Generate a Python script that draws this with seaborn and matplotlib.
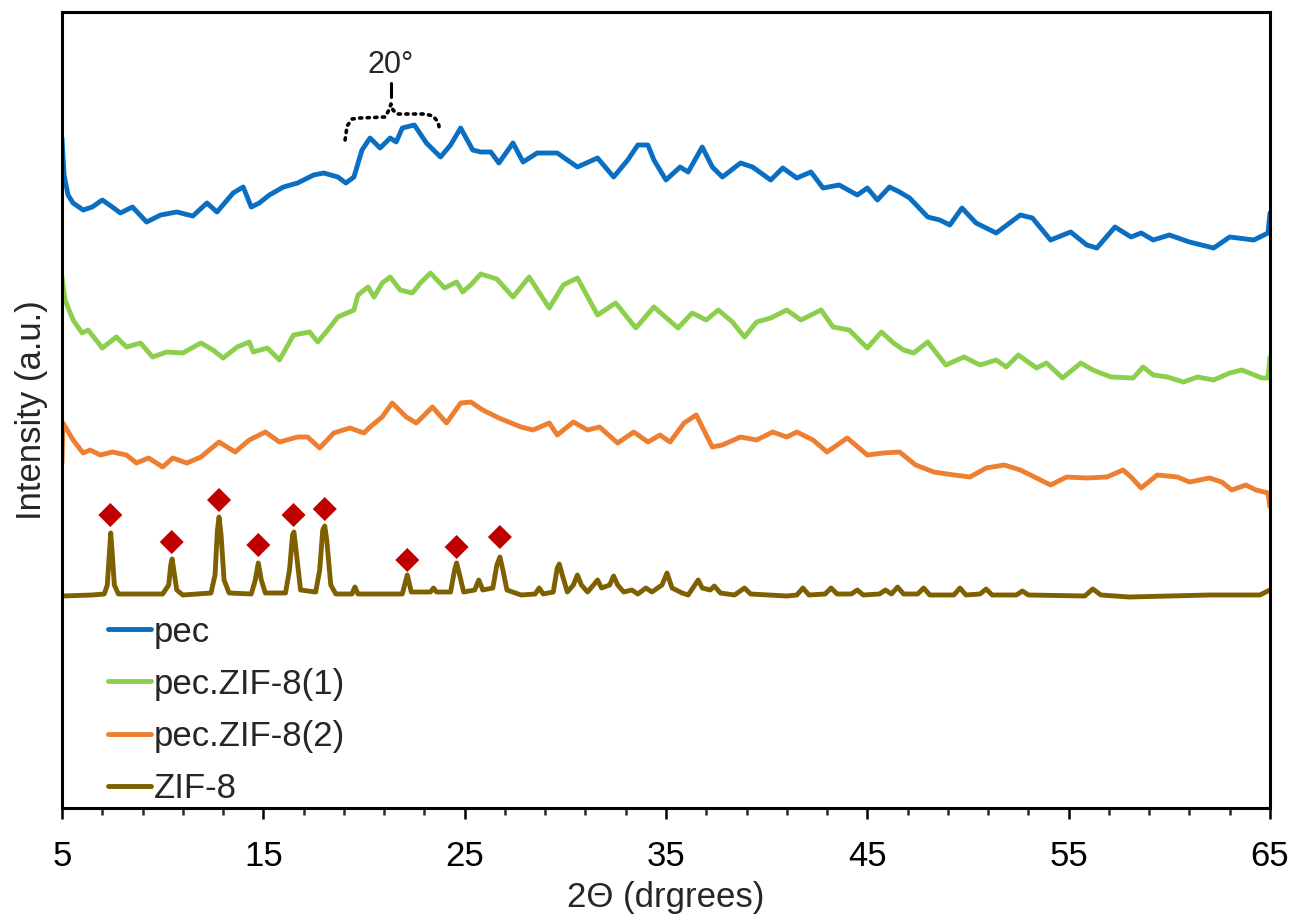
import numpy as np
import pandas as pd
import matplotlib
matplotlib.use("Agg")
import matplotlib.pyplot as plt
import seaborn as sns
from matplotlib.ticker import FixedLocator

sns.set_style("white")
plt.rcParams["font.family"] = ["Liberation Sans", "DejaVu Sans"]

# ---------------- data (2theta in degrees, intensity in arbitrary units, offset as plotted) -------------
pec_x = [5.0, 5.1, 5.3, 5.55, 6.05, 6.5, 7.0, 7.5, 7.9, 8.5, 9.2, 9.9, 10.7, 11.5, 12.2, 12.7, 13.5, 14.0,
         14.4, 14.8, 15.3, 16.0, 16.7, 17.5, 18.0, 18.7, 19.1, 19.5, 19.9, 20.3, 20.8, 21.3, 21.6, 21.9, 22.5,
         23.1, 23.8, 24.3, 24.8, 25.4, 25.8, 26.3, 26.7, 27.4, 27.9, 28.6, 29.6, 30.6, 31.6, 32.4, 33.1, 33.6,
         34.1, 34.4, 35.0, 35.7, 36.1, 36.8, 37.3, 37.8, 38.7, 39.3, 40.2, 40.8, 41.5, 42.2, 42.8, 43.6, 44.5,
         45.0, 45.5, 46.1, 46.6, 47.1, 48.0, 48.6, 49.1, 49.7, 50.4, 51.4, 52.6, 53.2, 54.1, 55.1, 55.9, 56.4,
         57.3, 58.1, 58.6, 59.2, 60.0, 61.0, 62.2, 63.0, 64.2, 64.9, 65.0]
pec_y = [670, 633, 613, 605, 598, 601, 608, 601, 595, 601, 586, 593, 596, 592, 605, 596, 615, 621,
         601, 605, 613, 621, 625, 633, 635, 631, 625, 631, 658, 670, 660, 670, 666, 680, 683,
         665, 651, 663, 680, 658, 656, 656, 645, 665, 646, 655, 655, 641, 650, 631, 648, 663,
         663, 648, 628, 641, 636, 661, 641, 631, 645, 641, 628, 640, 630, 636, 620, 623, 613,
         620, 608, 621, 616, 610, 591, 588, 583, 600, 585, 575, 593, 590, 568, 576, 563, 560,
         581, 571, 575, 568, 573, 566, 560, 571, 568, 575, 595]

zif1_x = [5.0, 5.15, 5.55, 6.0, 6.3, 7.0, 7.7, 8.2, 8.9, 9.5, 10.2, 11.0, 11.9, 12.5, 13.0, 13.7, 14.3, 14.5,
          15.2, 15.8, 16.5, 17.3, 17.7, 18.2, 18.7, 19.5, 19.7, 20.2, 20.5, 20.9, 21.3, 21.8, 22.4, 22.8,
          23.3, 24.0, 24.6, 24.9, 25.3, 25.8, 26.6, 27.4, 28.2, 29.2, 29.9, 30.6, 31.6, 32.5, 33.5, 34.4,
          35.6, 36.3, 37.0, 37.6, 38.3, 38.9, 39.5, 40.2, 41.0, 41.7, 42.7, 43.3, 44.1, 45.0, 45.7, 46.3,
          46.8, 47.3, 48.0, 48.9, 49.8, 50.6, 51.4, 51.9, 52.5, 53.4, 53.9, 54.7, 55.6, 56.2, 57.1, 58.2,
          58.7, 59.2, 59.9, 60.7, 61.4, 62.2, 63.0, 63.6, 64.6, 64.9, 65.0]
zif1_y = [531, 508, 488, 475, 478, 460, 471, 461, 465, 451, 456, 455, 465, 458, 450, 461, 466, 456,
          460, 448, 473, 476, 466, 478, 491, 498, 513, 521, 511, 525, 531, 518, 515, 525,
          535, 520, 526, 516, 523, 534, 529, 511, 531, 500, 523, 530, 493, 505, 480, 501,
          480, 495, 488, 498, 486, 471, 486, 490, 498, 488, 498, 481, 478, 460, 476, 465,
          458, 455, 466, 443, 451, 443, 448, 441, 453, 440, 445, 430, 445, 438, 431, 430,
          441, 433, 431, 426, 431, 428, 435, 438, 430, 430, 451]

zif2_x = [5.0, 5.05, 5.55, 6.05, 6.4, 6.9, 7.5, 8.2, 8.7, 9.3, 10.0, 10.5, 11.2, 11.9, 12.8, 13.6, 14.3,
          15.1, 15.8, 16.7, 17.2, 17.8, 18.5, 19.3, 20.0, 20.3, 20.9, 21.4, 22.1, 22.6, 23.4, 24.1, 24.8,
          25.3, 25.9, 26.7, 27.8, 28.4, 29.2, 29.6, 30.4, 31.1, 31.7, 32.6, 33.4, 34.1, 34.7, 35.2, 35.9,
          36.5, 37.3, 37.8, 38.7, 39.5, 40.3, 41.0, 41.5, 42.3, 43.0, 44.0, 45.0, 45.8, 46.6, 47.4, 48.3,
          49.3, 50.1, 50.9, 51.8, 52.6, 53.3, 54.1, 54.9, 55.9, 56.9, 57.7, 58.1, 58.6, 59.4, 60.4, 61.0,
          62.0, 62.6, 63.1, 63.8, 64.3, 64.9, 65.0]
zif2_y = [345, 385, 368, 355, 358, 353, 356, 353, 345, 350, 341, 350, 345, 351, 366, 356, 368,
          376, 366, 371, 371, 360, 375, 380, 375, 381, 391, 405, 391, 385, 401, 385, 405,
          406, 398, 390, 381, 378, 385, 373, 386, 378, 381, 365, 376, 366, 373, 366, 385,
          393, 361, 363, 371, 368, 376, 371, 376, 368, 356, 370, 353, 355, 356, 343, 336,
          333, 331, 340, 343, 338, 331, 323, 331, 330, 331, 338, 331, 320, 333, 331, 326,
          330, 326, 318, 323, 318, 315, 301]

zif8_x = [5.0, 6.5, 7.1, 7.25, 7.35, 7.42, 7.5, 7.6, 7.8, 10.0, 10.3, 10.4, 10.47, 10.55, 10.7, 11.0,
          12.4, 12.6, 12.72, 12.8, 12.9, 13.05, 13.3, 14.4, 14.6, 14.75, 14.9, 15.1, 16.1, 16.3, 16.45,
          16.52, 16.65, 16.85, 17.6, 17.8, 17.95, 18.05, 18.15, 18.35, 18.6, 19.4, 19.55, 19.7, 21.9,
          22.15, 22.35, 23.3, 23.45, 23.6, 24.3, 24.5, 24.6, 24.75, 24.95, 25.5, 25.7, 25.9, 26.4, 26.6,
          26.75, 26.9, 27.1, 27.8, 28.5, 28.7, 28.9, 29.4, 29.6, 29.7, 29.85, 30.1, 30.4, 30.6, 30.8,
          31.1, 31.4, 31.6, 31.8, 32.2, 32.4, 32.6, 32.9, 33.3, 33.6, 34.0, 34.3, 34.8, 35.05, 35.3,
          35.8, 36.1, 36.4, 36.6, 36.8, 37.2, 37.4, 37.7, 38.4, 38.9, 39.2, 41.0, 41.5, 41.8, 42.1,
          42.9, 43.2, 43.5, 44.2, 44.5, 44.8, 45.6, 45.9, 46.2, 46.5, 46.8, 47.5, 47.8, 48.1, 49.3,
          49.6, 49.9, 50.6, 50.9, 51.2, 52.4, 52.7, 53.0, 55.8, 56.2, 56.6, 58.0, 60.0, 62.0, 64.5, 65.0]
zif8_y = [212, 213, 214, 223, 253, 275, 253, 223, 214, 214, 223, 243, 249, 238, 218, 213,
          215, 233, 278, 291, 273, 228, 215, 214, 228, 245, 228, 215, 215, 238, 273,
          276, 253, 218, 216, 238, 278, 282, 268, 223, 214, 214, 221, 214, 214,
          233, 216, 216, 220, 216, 216, 238, 245, 233, 216, 218, 228, 218, 220, 243,
          251, 238, 218, 213, 214, 220, 214, 216, 240, 244, 233, 216, 223, 233, 223,
          216, 223, 228, 220, 223, 232, 223, 216, 218, 214, 220, 216, 223, 235, 220,
          215, 213, 222, 228, 220, 218, 222, 215, 213, 220, 214, 212, 213, 220, 213,
          214, 220, 214, 214, 218, 213, 214, 218, 214, 221, 214, 214, 220, 213, 213,
          220, 213, 214, 219, 213, 213, 217, 213, 212, 219, 213, 211, 212, 213, 213, 218]

# ZIF-8 reflections marked with diamonds
marker_x = [7.4, 10.45, 12.8, 14.75, 16.5, 18.05, 22.15, 24.6, 26.75]
marker_y = [293, 266, 308, 263, 293, 299, 248, 261, 271]

series_names = ["pec", "pec.ZIF-8(1)", "pec.ZIF-8(2)", "ZIF-8"]
series_colors = ["#0A6FC2", "#8CCF4D", "#EE7E32", "#7F6000"]

# annotation brace over the 20 degree hump
brace_x = [19.06, 19.16, 19.41, 19.80, 21.05, 21.24, 21.34, 21.44, 21.64, 23.03, 23.43, 23.68, 23.78]
brace_y = [668, 682, 689, 690, 691, 698, 704, 698, 694, 694, 692, 686, 676]
stem_x = [21.34, 21.34]
stem_y = [711, 725]
brace_label = "20°"

# ---------------- build frame ----------------
frames = []
for name, xs, ys in zip(series_names, [pec_x, zif1_x, zif2_x, zif8_x], [pec_y, zif1_y, zif2_y, zif8_y]):
    frames.append(pd.DataFrame({"two_theta": xs, "intensity": ys, "sample": name}))
df = pd.concat(frames, ignore_index=True)

W, H = 1291, 917
fig = plt.figure(figsize=(W / 100, H / 100), dpi=100)
ax = fig.add_axes([62 / W, (H - 808) / H, (1270 - 62) / W, (808 - 12) / H])

sns.lineplot(data=df, x="two_theta", y="intensity", hue="sample", hue_order=series_names,
             palette=dict(zip(series_names, series_colors)), sort=False, estimator=None,
             linewidth=3.5, ax=ax)
sns.scatterplot(x=marker_x, y=marker_y, marker="D", s=150, color="#C00000", edgecolor="none",
                ax=ax, legend=False, zorder=5)

ax.plot(brace_x, brace_y, linestyle=(0, (0.6, 1.5)), color="black", linewidth=2.6, dash_capstyle="round")
ax.plot(stem_x, stem_y, color="black", linewidth=2.2)
ax.text(stem_x[0], stem_y[1] + 3, brace_label, ha="center", va="bottom", fontsize=22)

ax.set_xlim(5, 65)
ax.set_ylim(0, 796)
ax.set_xticks([5, 15, 25, 35, 45, 55, 65])
ax.xaxis.set_minor_locator(FixedLocator(np.arange(5, 66, 2)))
ax.set_yticks([])
ax.tick_params(axis="x", which="major", direction="out", length=8, width=1.8, labelsize=25, pad=15,
               bottom=True, colors="black")
ax.tick_params(axis="x", which="minor", direction="out", length=5, width=1.8, bottom=True)
for s in ax.spines.values():
    s.set_color("black")
    s.set_linewidth(2.2)

ax.set_xlabel("2Θ (drgrees)", fontsize=25, labelpad=6)
ax.set_ylabel("Intensity (a.u.)", fontsize=25, labelpad=10)

handles, labels = ax.get_legend_handles_labels()
leg = ax.legend(handles, labels, loc="lower left", bbox_to_anchor=(0.038, 0.004), frameon=False,
                fontsize=25, handlelength=1.25, handletextpad=0.08, labelspacing=0.55, borderpad=0,
                borderaxespad=0)
for h in leg.get_lines():
    h.set_linewidth(3.5)

fig.savefig("out.png", dpi=100)
